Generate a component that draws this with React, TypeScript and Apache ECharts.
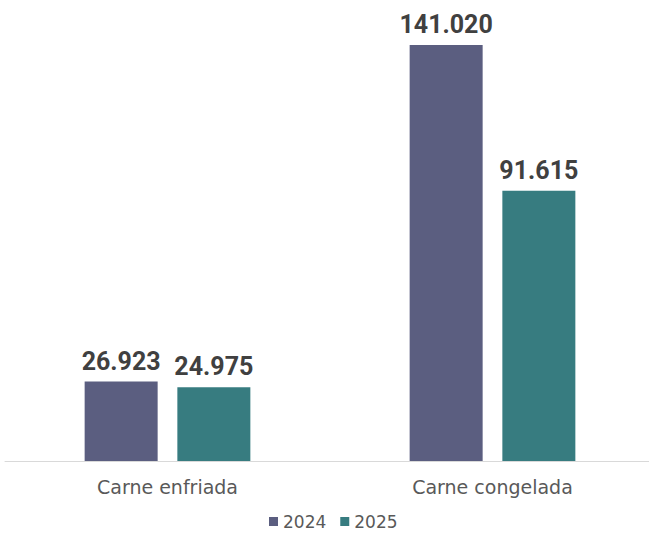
import React, { useEffect, useRef } from "react";
import * as echarts from "echarts";

const categories = ["Carne enfriada", "Carne congelada"];
const seriesNames = ["2024", "2025"];
const values2024 = [26923, 141020];
const values2025 = [24975, 91615];

const fmt = (v: number) => {
  const s = Math.round(v).toString();
  return s.replace(/\B(?=(\d{3})+(?!\d))/g, ".");
};

export default function App() {
  const ref = useRef<HTMLDivElement>(null);
  useEffect(() => {
    if (!ref.current) return;
    const chart = echarts.init(ref.current, undefined, { renderer: "svg" });
    const labelStyle = {
      show: true,
      position: "top" as const,
      distance: 8,
      fontFamily: "Roboto",
      fontWeight: "bold" as const,
      fontSize: 25,
      color: "#404040",
      formatter: (p: any) => fmt(p.value),
    };
    chart.setOption({
      animation: false,
      backgroundColor: "#ffffff",
      grid: { left: 5, width: 650, top: 45, bottom: 75, containLabel: false },
      legend: {
        data: seriesNames,
        bottom: 1,
        left: 264,
        icon: "rect",
        itemWidth: 9,
        itemHeight: 9,
        itemGap: 14,
        textStyle: { fontFamily: "DejaVu Sans", fontSize: 17, color: "#595959" },
      },
      xAxis: {
        type: "category",
        data: categories,
        axisLine: { show: true, lineStyle: { color: "#d9d9d9", width: 1 } },
        axisTick: { show: false },
        axisLabel: { fontFamily: "DejaVu Sans", fontSize: 19, color: "#595959", margin: 16 },
      },
      yAxis: {
        type: "value",
        min: 0,
        max: 141020,
        show: false,
        splitLine: { show: false },
      },
      series: [
        {
          name: seriesNames[0],
          type: "bar",
          data: values2024,
          barWidth: 73,
          barGap: "27%",
          itemStyle: { color: "#5b5e80" },
          label: labelStyle,
        },
        {
          name: seriesNames[1],
          type: "bar",
          data: values2025,
          barWidth: 73,
          itemStyle: { color: "#377c80" },
          label: labelStyle,
        },
      ],
    });
    return () => chart.dispose();
  }, []);
  return (
    <div style={{ position: "fixed", left: 0, top: 0, width: 649, height: 536, overflow: "hidden", background: "#fff" }}>
      <div ref={ref} style={{ width: 660, height: 536 }} />
    </div>
  );
}
